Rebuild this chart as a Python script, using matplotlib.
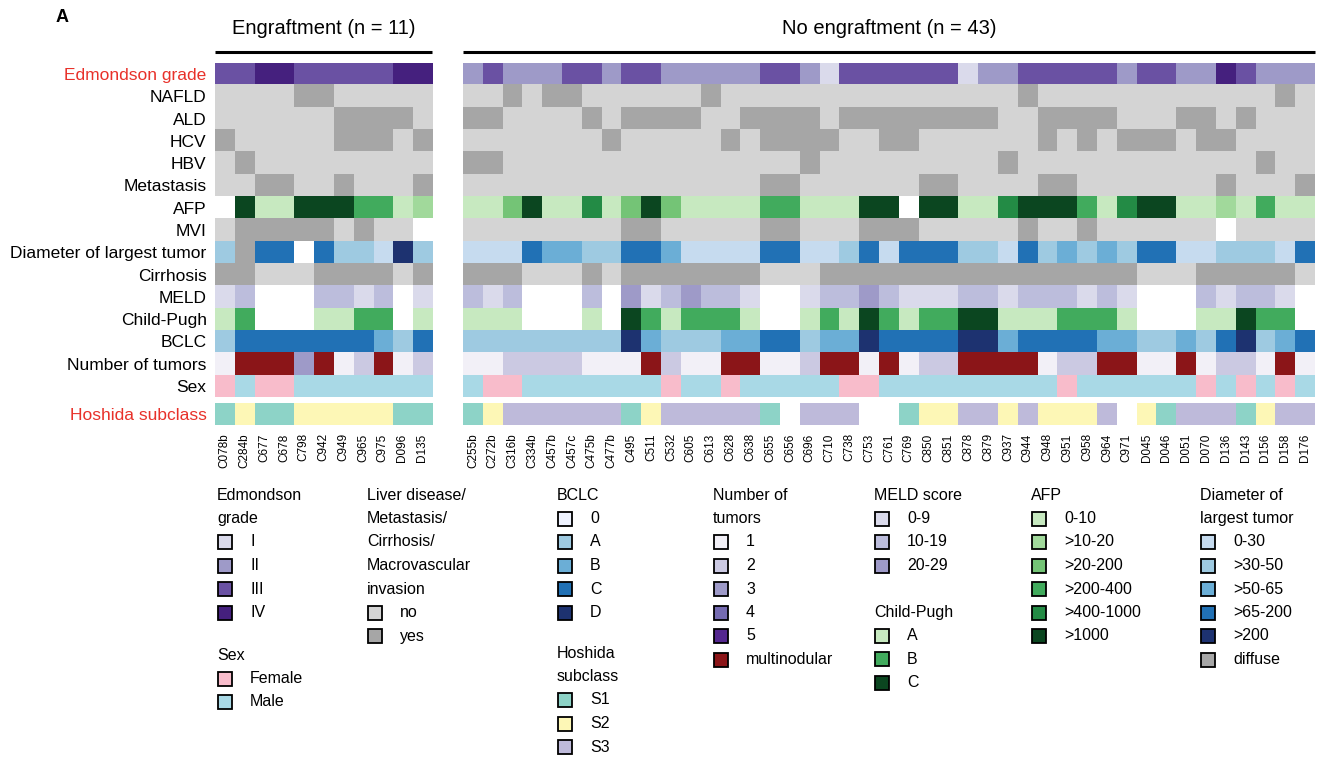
#!/usr/bin/env python3
"""Clinical annotation heatmap: engraftment vs no engraftment."""

import numpy as np
import matplotlib

matplotlib.use("Agg")
import matplotlib.pyplot as plt
from matplotlib.colors import to_rgb
from matplotlib.patches import Rectangle

plt.rcParams["font.family"] = ["Liberation Sans", "DejaVu Sans"]

# ---- samples ----
samples_eng = ["C078b", "C284b", "C677", "C678", "C798", "C942", "C949",
               "C965", "C975", "D096", "D135"]
samples_no = ["C255b", "C272b", "C316b", "C334b", "C457b", "C457c", "C475b",
              "C477b", "C495", "C511", "C532", "C605", "C613", "C628", "C638",
              "C655", "C656", "C696", "C710", "C738", "C753", "C761", "C769",
              "C850", "C851", "C878", "C879", "C937", "C944", "C948", "C951",
              "C958", "C964", "C971", "D045", "D046", "D051", "D070", "D136",
              "D143", "D156", "D158", "D176"]

# ---- values (0 = missing for graded rows, -1 = missing for yes/no rows) ----
# Edmondson grade 1..4
edmondson_eng = [3, 3, 4, 4, 3, 3, 3, 3, 3, 4, 4]
edmondson_no = [2, 3, 2, 2, 2, 3, 3, 2, 3, 3, 2, 2, 2, 2, 2, 3, 3, 2, 1, 3,
                3, 3, 3, 3, 3, 1, 2, 2, 3, 3, 3, 3, 3, 2, 3, 3, 2, 2, 4, 3,
                2, 2, 2]
# yes/no rows
nafld_eng = [0, 0, 0, 0, 1, 1, 0, 0, 0, 0, 0]
nafld_no = [0, 0, 1, 0, 1, 1, 0, 0, 0, 0, 0, 0, 1, 0, 0, 0, 0, 0, 0, 0,
            0, 0, 0, 0, 0, 0, 0, 0, 1, 0, 0, 0, 0, 0, 0, 0, 0, 0, 0, 0,
            0, 1, 0]
ald_eng = [0, 0, 0, 0, 0, 0, 1, 1, 1, 1, 0]
ald_no = [1, 1, 0, 0, 0, 0, 1, 0, 1, 1, 1, 1, 0, 0, 1, 1, 1, 1, 0, 1,
          1, 1, 1, 1, 1, 1, 1, 0, 0, 1, 1, 1, 1, 0, 0, 0, 1, 1, 0, 1,
          0, 0, 0]
hcv_eng = [1, 0, 0, 0, 0, 0, 1, 1, 1, 0, 1]
hcv_no = [0, 0, 0, 0, 0, 0, 0, 1, 0, 0, 0, 0, 0, 1, 0, 1, 1, 1, 1, 0,
          0, 1, 1, 0, 0, 0, 0, 0, 0, 1, 0, 1, 0, 1, 1, 1, 0, 1, 1, 0,
          0, 0, 0]
hbv_eng = [0, 1, 0, 0, 0, 0, 0, 0, 0, 0, 0]
hbv_no = [1, 1, 0, 0, 0, 0, 0, 0, 0, 0, 0, 0, 0, 0, 0, 0, 0, 1, 0, 0,
          0, 0, 0, 0, 0, 0, 0, 1, 0, 0, 0, 0, 0, 0, 0, 0, 0, 0, 0, 0,
          1, 0, 0]
metastasis_eng = [0, 0, 1, 1, 0, 0, 1, 0, 0, 0, 1]
metastasis_no = [0, 0, 0, 0, 0, 0, 0, 0, 0, 0, 0, 0, 0, 0, 0, 1, 1, 0, 0, 0,
                 0, 0, 0, 1, 1, 0, 0, 0, 0, 1, 1, 0, 0, 0, 0, 0, 0, 0, 1, 0,
                 0, 0, 1]
# AFP 1..6 (0-10 ... >1000)
afp_eng = [0, 6, 1, 1, 6, 6, 6, 4, 4, 1, 2]
afp_no = [1, 1, 3, 6, 1, 1, 5, 1, 3, 6, 3, 1, 1, 1, 1, 4, 4, 1, 1, 1,
          6, 6, 0, 6, 6, 1, 1, 5, 6, 6, 6, 4, 1, 5, 6, 6, 1, 1, 2, 1,
          4, 1, 1]
mvi_eng = [0, 1, 1, 1, 1, 1, 0, 1, 0, 0, -1]
mvi_no = [0, 0, 0, 0, 0, 0, 0, 0, 1, 1, 0, 0, 0, 0, 0, 1, 1, 0, 0, 0,
          1, 1, 1, 0, 0, 0, 0, 0, 1, 0, 0, 1, 0, 0, 0, 0, 0, 0, -1, 0,
          0, 0, 0]
# diameter 1..5 (0-30 ... >200), 6 = diffuse
diameter_eng = [2, 6, 4, 4, 0, 4, 2, 2, 1, 5, 2]
diameter_no = [1, 1, 1, 4, 3, 3, 2, 2, 4, 4, 3, 1, 1, 1, 1, 4, 4, 1, 1, 2,
               4, 1, 4, 4, 4, 2, 2, 1, 4, 2, 3, 2, 3, 2, 4, 4, 1, 1, 2, 2,
               2, 1, 4]
cirrhosis_eng = [1, 1, 0, 0, 0, 1, 1, 1, 1, 0, 1]
cirrhosis_no = [1, 1, 1, 0, 0, 0, 1, 0, 1, 1, 1, 1, 1, 1, 1, 0, 0, 0, 1, 1,
                1, 1, 1, 1, 1, 1, 1, 1, 1, 1, 1, 1, 1, 1, 0, 0, 0, 1, 1, 1,
                1, 1, 0]
# MELD 1..3 (0-9, 10-19, 20-29)
meld_eng = [1, 2, 0, 0, 0, 2, 2, 1, 2, 0, 1]
meld_no = [2, 1, 2, 0, 0, 0, 2, 0, 3, 1, 2, 3, 2, 2, 1, 0, 0, 1, 2, 2,
           3, 2, 1, 1, 1, 2, 2, 1, 2, 2, 2, 1, 2, 1, 0, 0, 0, 2, 1, 2,
           2, 1, 0]
# Child-Pugh 1..3 (A, B, C)
child_eng = [1, 2, 0, 0, 0, 1, 1, 2, 2, 0, 1]
child_no = [1, 1, 1, 0, 0, 0, 1, 0, 3, 2, 1, 2, 2, 2, 1, 0, 0, 1, 2, 1,
            3, 2, 1, 2, 2, 3, 3, 1, 1, 1, 2, 2, 2, 1, 0, 0, 0, 1, 1, 3,
            2, 2, 0]
# BCLC 1..5 (0, A, B, C, D)
bclc_eng = [2, 4, 4, 4, 4, 4, 4, 4, 3, 2, 4]
bclc_no = [2, 2, 2, 2, 2, 2, 2, 2, 5, 3, 2, 2, 2, 3, 3, 4, 4, 2, 3, 3,
           5, 4, 4, 4, 4, 5, 5, 3, 4, 4, 4, 4, 3, 3, 2, 2, 3, 2, 4, 5,
           2, 3, 4]
# number of tumors 1..5, 6 = multinodular
tumors_eng = [1, 6, 6, 6, 3, 6, 1, 2, 6, 1, 2]
tumors_no = [1, 1, 2, 2, 2, 2, 1, 1, 1, 6, 2, 1, 1, 6, 6, 1, 1, 2, 6, 6,
             1, 6, 1, 2, 2, 6, 6, 6, 6, 1, 2, 2, 6, 6, 1, 1, 6, 1, 2, 2,
             1, 6, 1]
# sex 0 = female, 1 = male
sex_eng = [0, 1, 0, 0, 1, 1, 1, 1, 1, 1, 1]
sex_no = [1, 0, 0, 1, 1, 1, 1, 1, 1, 1, 0, 1, 1, 0, 1, 1, 1, 1, 1, 0,
          0, 1, 1, 1, 1, 1, 1, 1, 1, 1, 0, 1, 1, 1, 1, 1, 1, 0, 1, 0,
          1, 0, 1]
# Hoshida subclass 1..3 (S1, S2, S3)
hoshida_eng = [1, 2, 1, 1, 2, 2, 2, 2, 2, 1, 1]
hoshida_no = [1, 2, 3, 3, 3, 3, 3, 3, 1, 2, 3, 3, 3, 3, 3, 1, 0, 3, 3, 3,
              0, 0, 1, 2, 2, 3, 3, 2, 3, 2, 2, 2, 3, 0, 2, 1, 3, 3, 3, 1,
              2, 3, 3]

# ---- palettes ----
GRAY_YN = {0: "#d4d4d4", 1: "#a6a6a6"}
EDMONDSON_COL = {1: "#dadaeb", 2: "#9e9ac8", 3: "#6a51a3", 4: "#45207e"}
AFP_COL = {1: "#c7e9c0", 2: "#a1d99b", 3: "#74c476", 4: "#41ab5d",
           5: "#238b45", 6: "#0b4620"}
DIAM_COL = {1: "#c6dbef", 2: "#9ecae1", 3: "#6baed6", 4: "#2171b5",
            5: "#1d3270", 6: "#a6a6a6"}
MELD_COL = {1: "#dadaeb", 2: "#bcbddc", 3: "#9e9ac8"}
CHILD_COL = {1: "#c7e9c0", 2: "#41ab5d", 3: "#0b4620"}
BCLC_COL = {1: "#eff3ff", 2: "#9ecae1", 3: "#6baed6", 4: "#2171b5", 5: "#1d3270"}
TUMOR_COL = {1: "#f2f0f7", 2: "#cbc9e2", 3: "#9e9ac8", 4: "#756bb1",
             5: "#54278f", 6: "#8b1518"}
SEX_COL = {0: "#f8bccb", 1: "#a9d9e6"}
HOSHIDA_COL = {1: "#8dd3c7", 2: "#fdf7b6", 3: "#bebada"}

rows = [
    ("Edmondson grade", edmondson_eng, edmondson_no, EDMONDSON_COL),
    ("NAFLD", nafld_eng, nafld_no, GRAY_YN),
    ("ALD", ald_eng, ald_no, GRAY_YN),
    ("HCV", hcv_eng, hcv_no, GRAY_YN),
    ("HBV", hbv_eng, hbv_no, GRAY_YN),
    ("Metastasis", metastasis_eng, metastasis_no, GRAY_YN),
    ("AFP", afp_eng, afp_no, AFP_COL),
    ("MVI", mvi_eng, mvi_no, GRAY_YN),
    ("Diameter of largest tumor", diameter_eng, diameter_no, DIAM_COL),
    ("Cirrhosis", cirrhosis_eng, cirrhosis_no, GRAY_YN),
    ("MELD", meld_eng, meld_no, MELD_COL),
    ("Child-Pugh", child_eng, child_no, CHILD_COL),
    ("BCLC", bclc_eng, bclc_no, BCLC_COL),
    ("Number of tumors", tumors_eng, tumors_no, TUMOR_COL),
    ("Sex", sex_eng, sex_no, SEX_COL),
]


def to_rgb_grid(value_rows, palettes):
    grid = np.ones((len(value_rows), len(value_rows[0]), 3))
    for r, (vals, pal) in enumerate(zip(value_rows, palettes)):
        for c, v in enumerate(vals):
            grid[r, c] = to_rgb(pal.get(v, "#ffffff"))
    return grid


W, H = 1323, 761
fig = plt.figure(figsize=(W / 100, H / 100), dpi=100)


def px_axes(x0, y0, x1, y1):
    return fig.add_axes([x0 / W, 1 - y1 / H, (x1 - x0) / W, (y1 - y0) / H])


GRID_TOP, GRID_BOT = 63, 397
HOSH_TOP, HOSH_BOT = 403, 425
LABEL_FS = 12.5
blocks = [
    (215, 432, samples_eng, 1, "Engraftment (n = 11)"),
    (463, 1315, samples_no, 2, "No engraftment (n = 43)"),
]

for x0, x1, names, idx, title in blocks:
    ax = px_axes(x0, GRID_TOP, x1, GRID_BOT)
    grid = to_rgb_grid([r[idx] for r in rows], [r[3] for r in rows])
    ax.imshow(grid, aspect="auto", interpolation="nearest")
    ax.set_xticks([])
    if idx == 1:
        ax.set_yticks(range(len(rows)))
        ax.set_yticklabels([r[0] for r in rows], fontsize=LABEL_FS)
        ax.tick_params(axis="y", length=0, pad=6)
        for lab in ax.get_yticklabels():
            if lab.get_text() == "Edmondson grade":
                lab.set_color("#e8312a")
    else:
        ax.set_yticks([])
    for s in ax.spines.values():
        s.set_visible(False)
    # group header line + title
    yl = 1 + 11 / (GRID_BOT - GRID_TOP)
    ax.plot([0, 1], [yl, yl], transform=ax.transAxes, color="black",
            lw=2.2, clip_on=False, solid_capstyle="butt")
    ax.text(0.5, 1 + 35 / (GRID_BOT - GRID_TOP), title, transform=ax.transAxes,
            ha="center", va="center", fontsize=14.5)

    hx = px_axes(x0, HOSH_TOP, x1, HOSH_BOT)
    hvals = hoshida_eng if idx == 1 else hoshida_no
    hx.imshow(to_rgb_grid([hvals], [HOSHIDA_COL]), aspect="auto",
              interpolation="nearest")
    hx.set_xticks(range(len(names)))
    hx.set_xticklabels(names, rotation=90, fontsize=8.5)
    hx.tick_params(axis="x", length=0, pad=6)
    if idx == 1:
        hx.set_yticks([0])
        hx.set_yticklabels(["Hoshida subclass"], fontsize=LABEL_FS,
                           color="#e8312a")
        hx.tick_params(axis="y", length=0, pad=6)
    else:
        hx.set_yticks([])
    for s in hx.spines.values():
        s.set_visible(False)

fig.text(62 / W, 1 - 18 / H, "A", fontsize=13, fontweight="bold",
         ha="center", va="center")

# ---- legend ----
lg = fig.add_axes([0, 0, 1, 1])
lg.set_xlim(0, W)
lg.set_ylim(H, 0)
lg.axis("off")
lg.patch.set_alpha(0)

STEP = 23.5


def legend_group(x, y, title_lines, items):
    for line in title_lines:
        lg.text(x, y, line, fontsize=11.5, va="center", ha="left")
        y += STEP
    for label, color in items:
        lg.add_patch(Rectangle((x + 1, y - 7), 14, 14, facecolor=color,
                               edgecolor="black", lw=1.3))
        lg.text(x + 33, y, label, fontsize=11.5, va="center", ha="left")
        y += STEP
    return y


legend_group(217, 495, ["Edmondson", "grade"],
             [(k, EDMONDSON_COL[i]) for i, k in enumerate(["I", "II", "III", "IV"], 1)])
legend_group(217, 655, ["Sex"], [("Female", SEX_COL[0]), ("Male", SEX_COL[1])])
legend_group(367, 495, ["Liver disease/", "Metastasis/", "Cirrhosis/",
                        "Macrovascular", "invasion"],
             [("no", GRAY_YN[0]), ("yes", GRAY_YN[1])])
legend_group(557, 495, ["BCLC"],
             [(k, BCLC_COL[i]) for i, k in enumerate(["0", "A", "B", "C", "D"], 1)])
legend_group(557, 653, ["Hoshida", "subclass"],
             [(k, HOSHIDA_COL[i]) for i, k in enumerate(["S1", "S2", "S3"], 1)])
legend_group(713, 495, ["Number of", "tumors"],
             [(k, TUMOR_COL[i]) for i, k in
              enumerate(["1", "2", "3", "4", "5", "multinodular"], 1)])
legend_group(874, 495, ["MELD score"],
             [(k, MELD_COL[i]) for i, k in enumerate(["0-9", "10-19", "20-29"], 1)])
legend_group(874, 612, ["Child-Pugh"],
             [(k, CHILD_COL[i]) for i, k in enumerate(["A", "B", "C"], 1)])
legend_group(1031, 495, ["AFP"],
             [(k, AFP_COL[i]) for i, k in
              enumerate(["0-10", ">10-20", ">20-200", ">200-400",
                         ">400-1000", ">1000"], 1)])
legend_group(1200, 495, ["Diameter of", "largest tumor"],
             [(k, DIAM_COL[i]) for i, k in
              enumerate(["0-30", ">30-50", ">50-65", ">65-200", ">200",
                         "diffuse"], 1)])

fig.savefig("out.png", dpi=100)
